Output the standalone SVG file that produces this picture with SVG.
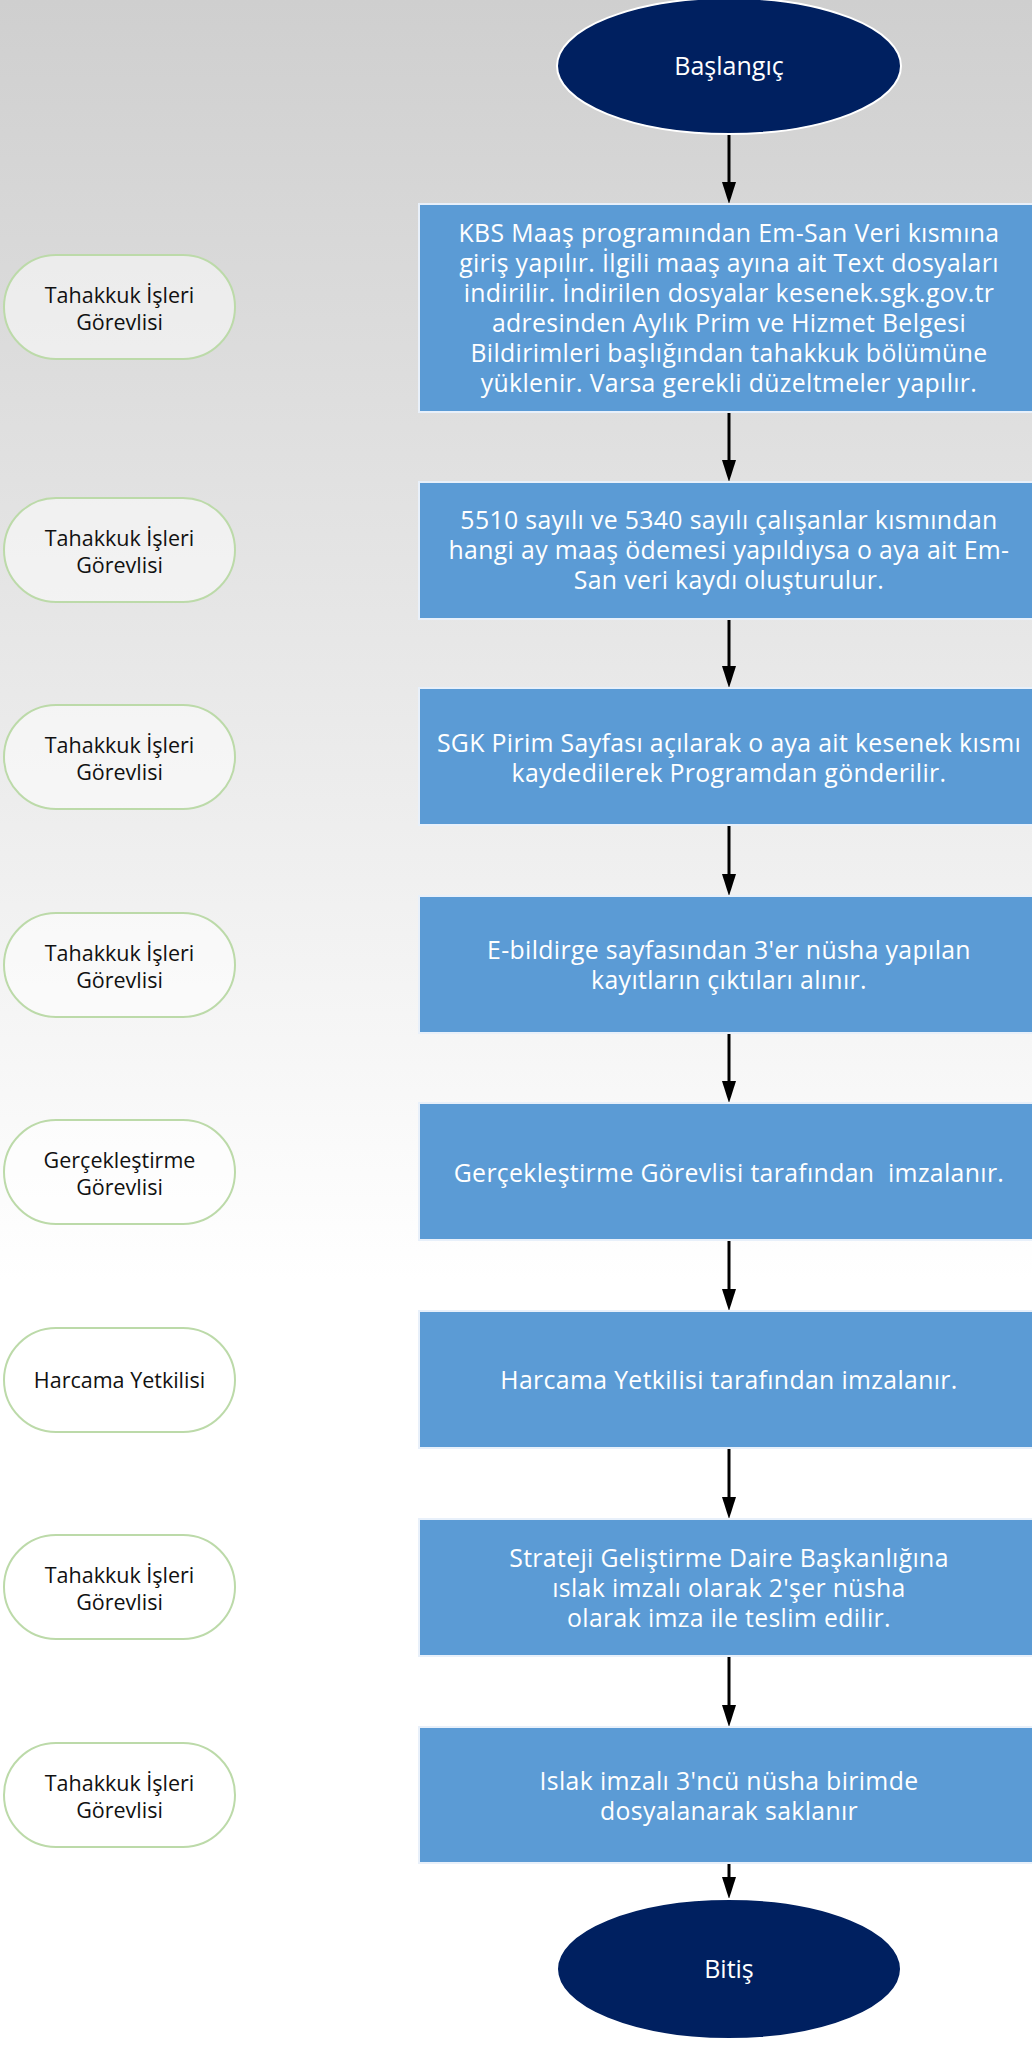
<svg xmlns="http://www.w3.org/2000/svg" width="1032" height="2064" viewBox="0 0 1032 2064">
<defs>
<linearGradient id="bg" x1="0" y1="0" x2="0" y2="2064" gradientUnits="userSpaceOnUse">
<stop offset="0" stop-color="#cfcfcf"/>
<stop offset="0.62" stop-color="#ffffff"/>
<stop offset="1" stop-color="#ffffff"/>
</linearGradient>
<style>
.term{fill:#002060;stroke:#ffffff;stroke-width:2}
.term-t{fill:#ffffff;font-family:"Open Sans","Noto Sans",sans-serif;font-size:25px;text-anchor:middle}
.box{fill:#5b9bd5;stroke:#e8f0fa;stroke-width:2}
.box-t{fill:#ffffff;font-family:"Open Sans","Noto Sans",sans-serif;font-size:24.8px;letter-spacing:0.35px;text-anchor:middle}
.pill{fill:#ffffff;fill-opacity:0.5;stroke:#bcdaa9;stroke-width:2}
.pill-t{fill:#111111;font-family:"Open Sans","Noto Sans",sans-serif;font-size:21.5px;text-anchor:middle}
.conn{stroke:#000;stroke-width:3;fill:none}
.head{fill:#000}
</style>
</defs>
<rect x="0" y="0" width="1032" height="2064" fill="url(#bg)"/>

<g id="connectors">
<line class="conn" x1="729" y1="135" x2="729" y2="182"/>
<path class="head" d="M722,182 L736,182 L729,204 Z"/>
<line class="conn" x1="729" y1="413" x2="729" y2="460"/>
<path class="head" d="M722,460 L736,460 L729,482 Z"/>
<line class="conn" x1="729" y1="620" x2="729" y2="666"/>
<path class="head" d="M722,666 L736,666 L729,688 Z"/>
<line class="conn" x1="729" y1="826" x2="729" y2="874"/>
<path class="head" d="M722,874 L736,874 L729,896 Z"/>
<line class="conn" x1="729" y1="1034" x2="729" y2="1081"/>
<path class="head" d="M722,1081 L736,1081 L729,1103 Z"/>
<line class="conn" x1="729" y1="1241" x2="729" y2="1289"/>
<path class="head" d="M722,1289 L736,1289 L729,1311 Z"/>
<line class="conn" x1="729" y1="1449" x2="729" y2="1497"/>
<path class="head" d="M722,1497 L736,1497 L729,1519 Z"/>
<line class="conn" x1="729" y1="1657" x2="729" y2="1705"/>
<path class="head" d="M722,1705 L736,1705 L729,1727 Z"/>
<line class="conn" x1="729" y1="1864" x2="729" y2="1877"/>
<path class="head" d="M722,1877 L736,1877 L729,1899 Z"/>
</g>

<g id="start">
<ellipse class="term" cx="729" cy="66" rx="172" ry="68"/>
<text class="term-t" x="729" y="75">Başlangıç</text>
</g>

<g id="step1">
<rect class="box" x="419" y="204" width="622" height="208"/>
<text class="box-t"><tspan x="729" y="242">KBS Maaş programından Em-San Veri kısmına</tspan><tspan x="729" y="272">giriş yapılır. İlgili maaş ayına ait Text dosyaları</tspan><tspan x="729" y="302">indirilir. İndirilen dosyalar kesenek.sgk.gov.tr</tspan><tspan x="729" y="332">adresinden Aylık Prim ve Hizmet Belgesi</tspan><tspan x="729" y="362">Bildirimleri başlığından tahakkuk bölümüne</tspan><tspan x="729" y="392">yüklenir. Varsa gerekli düzeltmeler yapılır.</tspan></text>
</g>

<g id="step2">
<rect class="box" x="419" y="482" width="622" height="137"/>
<text class="box-t"><tspan x="729" y="529">5510 sayılı ve 5340 sayılı çalışanlar kısmından</tspan><tspan x="729" y="559">hangi ay maaş ödemesi yapıldıysa o aya ait Em-</tspan><tspan x="729" y="589">San veri kaydı oluşturulur.</tspan></text>
</g>

<g id="step3">
<rect class="box" x="419" y="688" width="622" height="137"/>
<text class="box-t"><tspan x="729" y="752">SGK Pirim Sayfası açılarak o aya ait kesenek kısmı</tspan><tspan x="729" y="782">kaydedilerek Programdan gönderilir.</tspan></text>
</g>

<g id="step4">
<rect class="box" x="419" y="896" width="622" height="137"/>
<text class="box-t"><tspan x="729" y="959">E-bildirge sayfasından 3'er nüsha yapılan</tspan><tspan x="729" y="989">kayıtların çıktıları alınır.</tspan></text>
</g>

<g id="step5">
<rect class="box" x="419" y="1103" width="622" height="137"/>
<text class="box-t" x="729" y="1182" xml:space="preserve">Gerçekleştirme Görevlisi tarafından  imzalanır.</text>
</g>

<g id="step6">
<rect class="box" x="419" y="1311" width="622" height="137"/>
<text class="box-t" x="729" y="1389">Harcama Yetkilisi tarafından imzalanır.</text>
</g>

<g id="step7">
<rect class="box" x="419" y="1519" width="622" height="137"/>
<text class="box-t"><tspan x="729" y="1567">Strateji Geliştirme Daire Başkanlığına</tspan><tspan x="729" y="1597">ıslak imzalı olarak 2'şer nüsha</tspan><tspan x="729" y="1627">olarak imza ile teslim edilir.</tspan></text>
</g>

<g id="step8">
<rect class="box" x="419" y="1727" width="622" height="136"/>
<text class="box-t"><tspan x="729" y="1790">Islak imzalı 3'ncü nüsha birimde</tspan><tspan x="729" y="1820">dosyalanarak saklanır</tspan></text>
</g>

<g id="end">
<ellipse class="term" cx="729" cy="1969" rx="172" ry="70"/>
<text class="term-t" x="729" y="1978">Bitiş</text>
</g>

<g id="role1">
<rect class="pill" x="4" y="255" width="231" height="104" rx="52"/>
<text class="pill-t"><tspan x="119.5" y="303">Tahakkuk İşleri</tspan><tspan x="119.5" y="330">Görevlisi</tspan></text>
</g>
<g id="role2">
<rect class="pill" x="4" y="498" width="231" height="104" rx="52"/>
<text class="pill-t"><tspan x="119.5" y="546">Tahakkuk İşleri</tspan><tspan x="119.5" y="573">Görevlisi</tspan></text>
</g>
<g id="role3">
<rect class="pill" x="4" y="705" width="231" height="104" rx="52"/>
<text class="pill-t"><tspan x="119.5" y="753">Tahakkuk İşleri</tspan><tspan x="119.5" y="780">Görevlisi</tspan></text>
</g>
<g id="role4">
<rect class="pill" x="4" y="913" width="231" height="104" rx="52"/>
<text class="pill-t"><tspan x="119.5" y="961">Tahakkuk İşleri</tspan><tspan x="119.5" y="988">Görevlisi</tspan></text>
</g>
<g id="role5">
<rect class="pill" x="4" y="1120" width="231" height="104" rx="52"/>
<text class="pill-t"><tspan x="119.5" y="1168">Gerçekleştirme</tspan><tspan x="119.5" y="1195">Görevlisi</tspan></text>
</g>
<g id="role6">
<rect class="pill" x="4" y="1328" width="231" height="104" rx="52"/>
<text class="pill-t" x="119.5" y="1388">Harcama Yetkilisi</text>
</g>
<g id="role7">
<rect class="pill" x="4" y="1535" width="231" height="104" rx="52"/>
<text class="pill-t"><tspan x="119.5" y="1583">Tahakkuk İşleri</tspan><tspan x="119.5" y="1610">Görevlisi</tspan></text>
</g>
<g id="role8">
<rect class="pill" x="4" y="1743" width="231" height="104" rx="52"/>
<text class="pill-t"><tspan x="119.5" y="1791">Tahakkuk İşleri</tspan><tspan x="119.5" y="1818">Görevlisi</tspan></text>
</g>
</svg>
